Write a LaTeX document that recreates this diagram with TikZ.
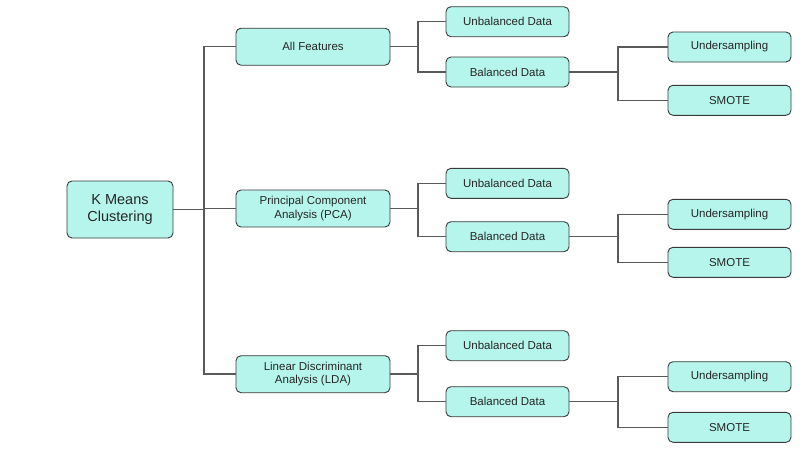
\documentclass[tikz,border=0pt]{standalone}
\usepackage{fontspec}
\setmainfont{Liberation Sans}
\begin{document}
\begin{tikzpicture}[x=1pt,y=-1pt,
  box/.style={draw=boxline, line width=0.9pt, fill=boxfill, rounded corners=5pt, align=center, inner sep=0pt, font=\fontsize{11.5}{13.5}\selectfont, text=txt},
  lbox/.style={box, minimum width=154pt, minimum height=37pt},
  sbox/.style={box, minimum width=123pt, minimum height=30pt},
  conn/.style={draw=connline, line width=1.5pt}]
\definecolor{boxfill}{HTML}{B5F5EC}
\definecolor{boxline}{HTML}{3A3A3A}
\definecolor{connline}{HTML}{5A5A5A}
\definecolor{txt}{HTML}{262626}
\useasboundingbox (0,0) rectangle (801,456);
\node[box, minimum width=106pt, minimum height=57pt, font=\fontsize{14.5}{17}\selectfont] (km) at (120,209.5) {K Means\\Clustering};
\node[lbox] (af) at (313,46.7) {All Features};
\node[lbox] (pca) at (313,208.5) {Principal Component\\Analysis (PCA)};
\node[lbox] (lda) at (313,374.2) {Linear Discriminant\\Analysis (LDA)};
% top
\node[sbox] (ub1) at (507.5,21.7) {Unbalanced Data};
\node[sbox] (b1) at (507.5,72) {Balanced Data};
\node[sbox] (us1) at (729.5,47) {Undersampling};
\node[sbox] (sm1) at (729.5,100.3) {SMOTE};
% middle
\node[sbox] (ub2) at (507.5,183.3) {Unbalanced Data};
\node[sbox] (b2) at (507.5,236.7) {Balanced Data};
\node[sbox] (us2) at (729.5,214.3) {Undersampling};
\node[sbox] (sm2) at (729.5,262.3) {SMOTE};
% bottom
\node[sbox] (ub3) at (507.5,345.7) {Unbalanced Data};
\node[sbox] (b3) at (507.5,401.7) {Balanced Data};
\node[sbox] (us3) at (729.5,376.7) {Undersampling};
\node[sbox] (sm3) at (729.5,427.3) {SMOTE};
% junctions
\coordinate (j0) at (204,209.5);
\coordinate (j1) at (418,46.7);
\coordinate (j2) at (418,208.5);
\coordinate (j3) at (418,374.2);
\coordinate (k1) at (618,72);
\coordinate (k2) at (618,236.7);
\coordinate (k3) at (618,401.7);
\draw[conn] (km.east) -- (j0) (j0) |- (af.west) (j0) |- (pca.west) (j0) |- (lda.west);
\draw[conn] (af.east) -- (j1) (j1) |- (ub1.west) (j1) |- (b1.west);
\draw[conn] (pca.east) -- (j2) (j2) |- (ub2.west) (j2) |- (b2.west);
\draw[conn] (lda.east) -- (j3) (j3) |- (ub3.west) (j3) |- (b3.west);
\draw[conn] (b1.east) -- (k1) (k1) |- (us1.west) (k1) |- (sm1.west);
\draw[conn] (b2.east) -- (k2) (k2) |- (us2.west) (k2) |- (sm2.west);
\draw[conn] (b3.east) -- (k3) (k3) |- (us3.west) (k3) |- (sm3.west);
\end{tikzpicture}
\end{document}
